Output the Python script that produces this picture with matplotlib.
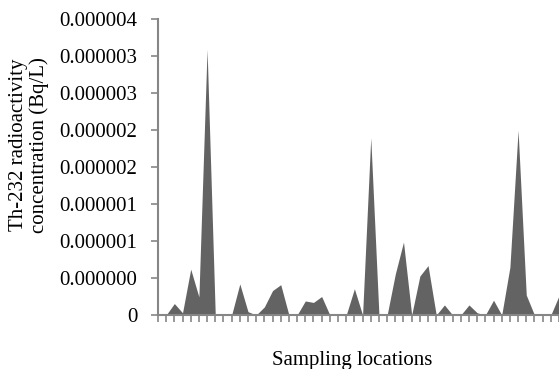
import numpy as np
import matplotlib.pyplot as plt

# Th-232 concentration per sampling location (x 1e-6 Bq/L)
locations = np.arange(50)
th232 = np.array([
    0, 0, 0.155, 0.03, 0.62, 0.245, 3.59, 0, 0, 0,
    0.42, 0.045, 0, 0.11, 0.33, 0.41, 0, 0, 0.19, 0.17,
    0.25, 0, 0, 0, 0.355, 0, 2.395, 0, 0, 0.555,
    0.986, 0, 0.527, 0.668, 0, 0.136, 0, 0, 0.136, 0.03,
    0, 0.2, 0, 0.645, 2.495, 0.27, 0, 0, 0, 0.26,
]) * 1e-6

yticks = np.arange(0, 4.01e-6, 0.5e-6)
ytick_labels = ['0', '0.000000', '0.000001', '0.000001', '0.000002',
                '0.000002', '0.000003', '0.000003', '0.000004']

plt.rcParams['font.family'] = 'Liberation Serif'
plt.rcParams['font.size'] = 15

fig = plt.figure(figsize=(5.59, 3.69), dpi=100)
ax = fig.add_axes([0.2826, 0.1463, 1 - 0.2826, 0.8022])

ax.fill_between(locations, th232, 0, color='#636363', linewidth=0)

ax.set_xlim(0, 49)
ax.set_ylim(0, 4e-6)
ax.set_yticks(yticks)
ax.set_yticklabels(ytick_labels)
ax.set_xticks(locations)
ax.set_xticklabels([])

for s in ['top', 'right']:
    ax.spines[s].set_visible(False)
for s in ['left', 'bottom']:
    ax.spines[s].set_color('#868686')
    ax.spines[s].set_linewidth(1.5)
ax.tick_params(axis='both', color='#868686', width=1.2, length=5, direction='out')
ax.tick_params(axis='y', pad=10)

fig.text(0.052, 0.607, 'Th-232 radioactivity\nconcentration (Bq/L)',
         rotation=90, ha='center', va='center', linespacing=1.05, fontsize=15)
fig.text(0.63, 0.024, 'Sampling locations', ha='center', va='center', fontsize=15)

fig.savefig('out.png', dpi=100)
